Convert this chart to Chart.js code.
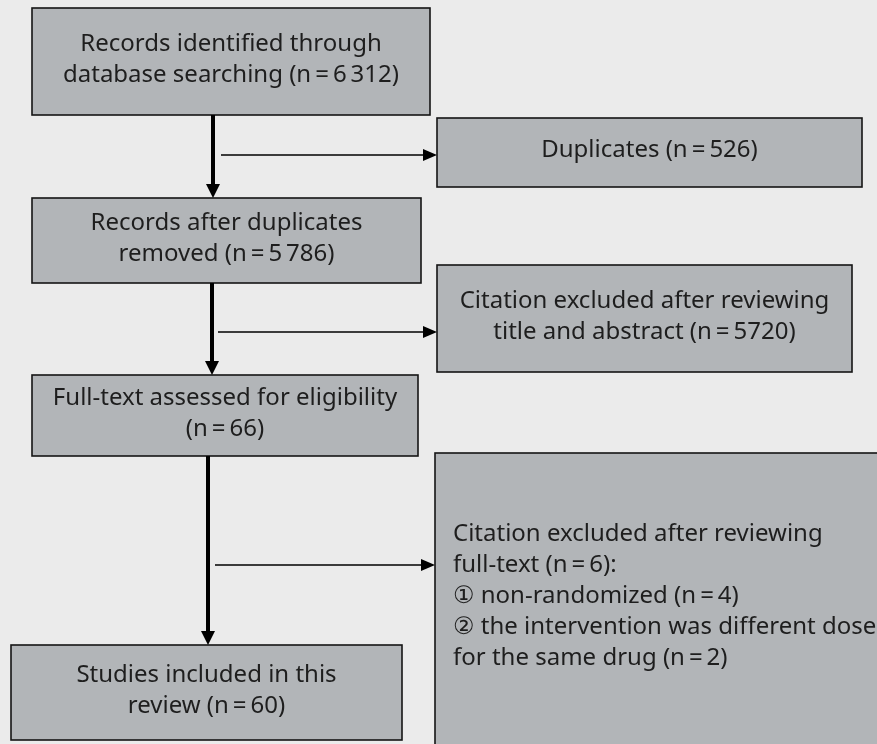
<!DOCTYPE html>
<html>
<head>
<meta charset="utf-8">
<script src="https://cdn.jsdelivr.net/npm/chart.js@4"></script>
<style>
  body { margin: 0; background: #ebebeb; }
  #wrap { width: 877px; height: 744px; }
</style>
</head>
<body>
<div id="wrap"><canvas id="flow"></canvas></div>
<script>
// box texts, one entry per line
const boxTexts = [
  ['Records identified through', 'database searching (n\u2009=\u20096\u2009312)'],
  ['Duplicates (n\u2009=\u2009526)'],
  ['Records after duplicates', 'removed (n\u2009=\u20095\u2009786)'],
  ['Citation excluded after reviewing', 'title and abstract (n\u2009=\u20095720)'],
  ['Full-text assessed for eligibility', '(n\u2009=\u200966)'],
  ['Citation excluded after reviewing', 'full-text (n\u2009=\u20096):', '\u2460 non-randomized (n\u2009=\u20094)',
   '\u2461 the intervention was different dose', 'for the same drug (n\u2009=\u20092)'],
  ['Studies included in this', 'review (n\u2009=\u200960)']
];

// layout in chart units (x0, y0, x1, y1), same units as the axes
const boxLayout = [
  [32, 8, 430, 115],
  [437, 118, 862, 187],
  [32, 198, 421, 283],
  [437, 265, 852, 372],
  [32, 375, 418, 456],
  [435, 453, 890, 760],
  [11, 645, 402, 740]
];
const boxAlign = ['center', 'center', 'center', 'center', 'center', 'left', 'center'];

// main flow arrows (x, yFrom, yTo) and side arrows (y, xFrom, xTo)
const downArrows = [[213, 115, 198], [212, 283, 375], [208, 456, 645]];
const sideArrows = [[155, 221, 437], [332, 218, 437], [565, 215, 435]];

const fontFamily = '"Noto Sans", "DejaVu Sans", sans-serif';

function arrowHead(ctx, x, y, dir) {
  // dir: 'down' or 'right', tip at (x, y)
  ctx.beginPath();
  if (dir === 'down') {
    ctx.moveTo(x, y);
    ctx.lineTo(x - 7, y - 14);
    ctx.lineTo(x + 7, y - 14);
  } else {
    ctx.moveTo(x, y);
    ctx.lineTo(x - 14, y - 6);
    ctx.lineTo(x - 14, y + 6);
  }
  ctx.closePath();
  ctx.fill();
}

const flowPlugin = {
  id: 'flow',
  beforeDraw(chart) {
    const { ctx, scales: { x, y } } = chart;
    ctx.save();
    ctx.fillStyle = '#ebebeb';
    ctx.fillRect(0, 0, chart.width, chart.height);

    // boxes
    boxLayout.forEach((b, i) => {
      const x0 = x.getPixelForValue(b[0]), x1 = x.getPixelForValue(b[2]);
      const y0 = y.getPixelForValue(b[1]), y1 = y.getPixelForValue(b[3]);
      ctx.fillStyle = '#b2b5b8';
      ctx.fillRect(x0, y0, x1 - x0, y1 - y0);
      ctx.strokeStyle = '#151515';
      ctx.lineWidth = 1.6;
      ctx.strokeRect(x0, y0, x1 - x0, y1 - y0);

      const lines = boxTexts[i];
      const lh = 31;
      const cy = (y0 + Math.min(y1, chart.height)) / 2 - 2;
      ctx.fillStyle = '#1e1e1e';
      ctx.font = '24px ' + fontFamily;
      ctx.textBaseline = 'middle';
      ctx.textAlign = boxAlign[i];
      const tx = boxAlign[i] === 'left' ? x0 + 18 : (x0 + x1) / 2;
      lines.forEach((t, k) => {
        ctx.fillText(t, tx, cy + (k - (lines.length - 1) / 2) * lh);
      });
    });

    // arrows
    ctx.strokeStyle = '#000';
    ctx.fillStyle = '#000';
    downArrows.forEach(a => {
      const px = x.getPixelForValue(a[0]);
      const p0 = y.getPixelForValue(a[1]), p1 = y.getPixelForValue(a[2]);
      ctx.lineWidth = 4;
      ctx.beginPath();
      ctx.moveTo(px, p0);
      ctx.lineTo(px, p1 - 12);
      ctx.stroke();
      arrowHead(ctx, px, p1, 'down');
    });
    sideArrows.forEach(a => {
      const py = y.getPixelForValue(a[0]);
      const p0 = x.getPixelForValue(a[1]), p1 = x.getPixelForValue(a[2]);
      ctx.lineWidth = 1.5;
      ctx.beginPath();
      ctx.moveTo(p0, py);
      ctx.lineTo(p1 - 12, py);
      ctx.stroke();
      arrowHead(ctx, p1, py, 'right');
    });
    ctx.restore();
  }
};

new Chart(document.getElementById('flow'), {
  type: 'scatter',
  data: { datasets: [{ data: [], pointRadius: 0 }] },
  options: {
    responsive: true,
    maintainAspectRatio: false,
    animation: false,
    layout: { padding: 0 },
    plugins: { legend: { display: false }, tooltip: { enabled: false } },
    scales: {
      x: { type: 'linear', min: 0, max: 877, display: false },
      y: { type: 'linear', min: 0, max: 744, reverse: true, display: false }
    }
  },
  plugins: [flowPlugin]
});
</script>
</body>
</html>
